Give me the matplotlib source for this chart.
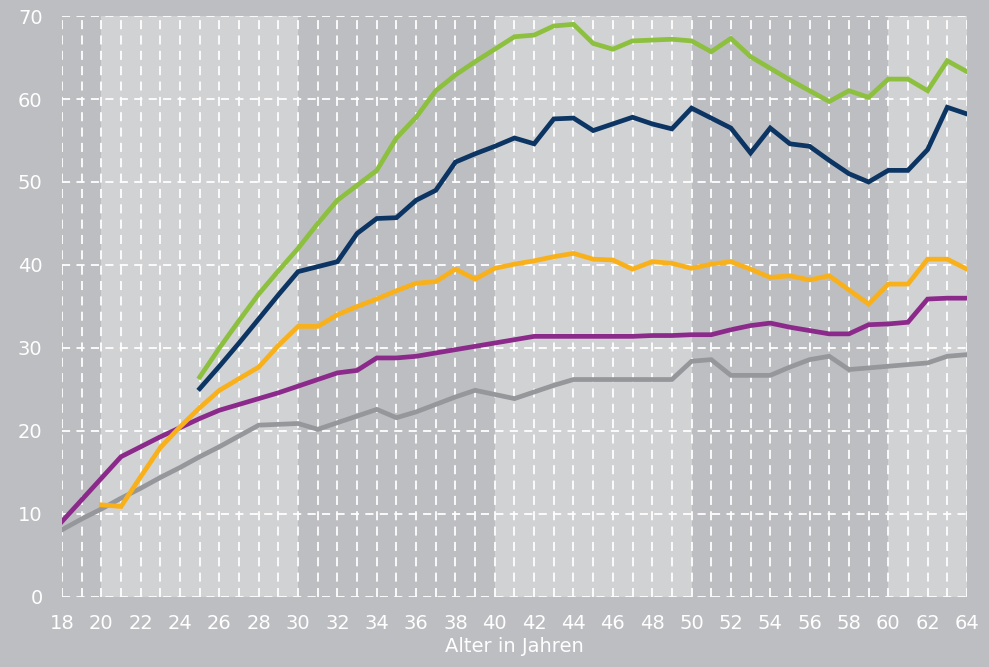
import matplotlib.pyplot as plt
import numpy as np

ages = list(range(18, 65))

# series values, one per age 18..64 (None = no value)
green = [None] * 7 + [
    26.5, 30.0, 33.3, 36.5, 39.3, 42.0, 45.0, 47.8, 49.6, 51.4,
    55.3, 57.8, 61.0, 62.9, 64.5, 66.0, 67.5, 67.7, 68.8, 69.0,
    66.7, 66.0, 67.0, 67.1, 67.2, 67.0, 65.7, 67.3, 65.1, 63.7,
    62.3, 61.0, 59.7, 61.0, 60.2, 62.4, 62.4, 61.0, 64.6, 63.3]
navy = [None] * 7 + [
    25.1, 27.8, 30.6, 33.5, 36.4, 39.2, 39.8, 40.4, 43.8, 45.6,
    45.7, 47.8, 49.0, 52.4, 53.4, 54.3, 55.3, 54.6, 57.6, 57.7,
    56.2, 57.0, 57.8, 57.0, 56.4, 58.9, 57.7, 56.5, 53.5, 56.5,
    54.6, 54.3, 52.6, 51.0, 50.0, 51.4, 51.4, 53.9, 59.0, 58.2]
orange = [None] * 2 + [
    11.1, 10.9, 14.5, 18.0, 20.5, 22.8, 24.9, 26.3, 27.7, 30.3,
    32.6, 32.6, 34.0, 35.0, 35.9, 36.9, 37.8, 38.0, 39.5, 38.3,
    39.6, 40.1, 40.5, 41.0, 41.4, 40.7, 40.6, 39.5, 40.4, 40.2,
    39.6, 40.1, 40.4, 39.5, 38.5, 38.7, 38.2, 38.7, 37.0, 35.3,
    37.7, 37.7, 40.7, 40.7, 39.5]
purple = [
    9.1, 11.7, 14.3, 16.9, 18.1, 19.3, 20.4, 21.5, 22.5, 23.2,
    23.9, 24.6, 25.4, 26.2, 27.0, 27.3, 28.8, 28.8, 29.0, 29.4,
    29.8, 30.2, 30.6, 31.0, 31.4, 31.4, 31.4, 31.4, 31.4, 31.4,
    31.5, 31.5, 31.6, 31.6, 32.2, 32.7, 33.0, 32.5, 32.1, 31.7,
    31.7, 32.8, 32.9, 33.1, 35.9, 36.0, 36.0][:47]
gray = [
    8.1, 9.4, 10.6, 11.9, 13.1, 14.4, 15.6, 16.9, 18.1, 19.4,
    20.7, 20.8, 20.9, 20.2, 21.0, 21.8, 22.6, 21.6, 22.3, 23.2,
    24.1, 24.9, 24.4, 23.9, 24.7, 25.5, 26.2, 26.2, 26.2, 26.2,
    26.2, 26.2, 28.4, 28.6, 26.7, 26.7, 26.7, 27.7, 28.6, 29.0,
    27.4, 27.6, 27.8, 28.0, 28.2, 29.0, 29.2]

series = [
    (gray, "#96979b"),
    (purple, "#8b2a8b"),
    (orange, "#f9b11b"),
    (navy, "#0c3563"),
    (green, "#8dc03f"),
]

light_bands = [(20, 30), (40, 50), (60, 64)]

bg = "#bdbec2"
fig = plt.figure(figsize=(9.89, 6.67), dpi=100, facecolor=bg)
ax = fig.add_axes([0.0627, 0.105, 0.9150, 0.871])
ax.set_facecolor(bg)

for a, b in light_bands:
    ax.axvspan(a, b, color="#d1d2d4", lw=0, zorder=0)

for x in ages:
    ax.plot([x, x], [0, 70], color="white", lw=1.3, dashes=(5, 3.5), zorder=1)
for y in range(0, 71, 10):
    ax.plot([18, 64], [y, y], color="white", lw=1.3, dashes=(4.5, 3.5), zorder=1)

for vals, col in series:
    arr = np.array([np.nan if v is None else v for v in vals], dtype=float)
    ax.plot(ages, arr, color=col, lw=3.4, solid_joinstyle="miter", zorder=3)

ax.set_xlim(18, 64)
ax.set_ylim(0, 70)
ax.set_xticks(range(18, 65, 2))
ax.set_yticks(range(0, 71, 10))
ax.tick_params(length=0, colors="white", labelsize=14)
ax.tick_params(axis="x", pad=12)
ax.tick_params(axis="y", pad=14)
for s in ax.spines.values():
    s.set_visible(False)
ax.set_xlabel("Alter in Jahren", color="white", fontsize=14, labelpad=3)

fig.savefig("out.png", dpi=100, facecolor=bg)
